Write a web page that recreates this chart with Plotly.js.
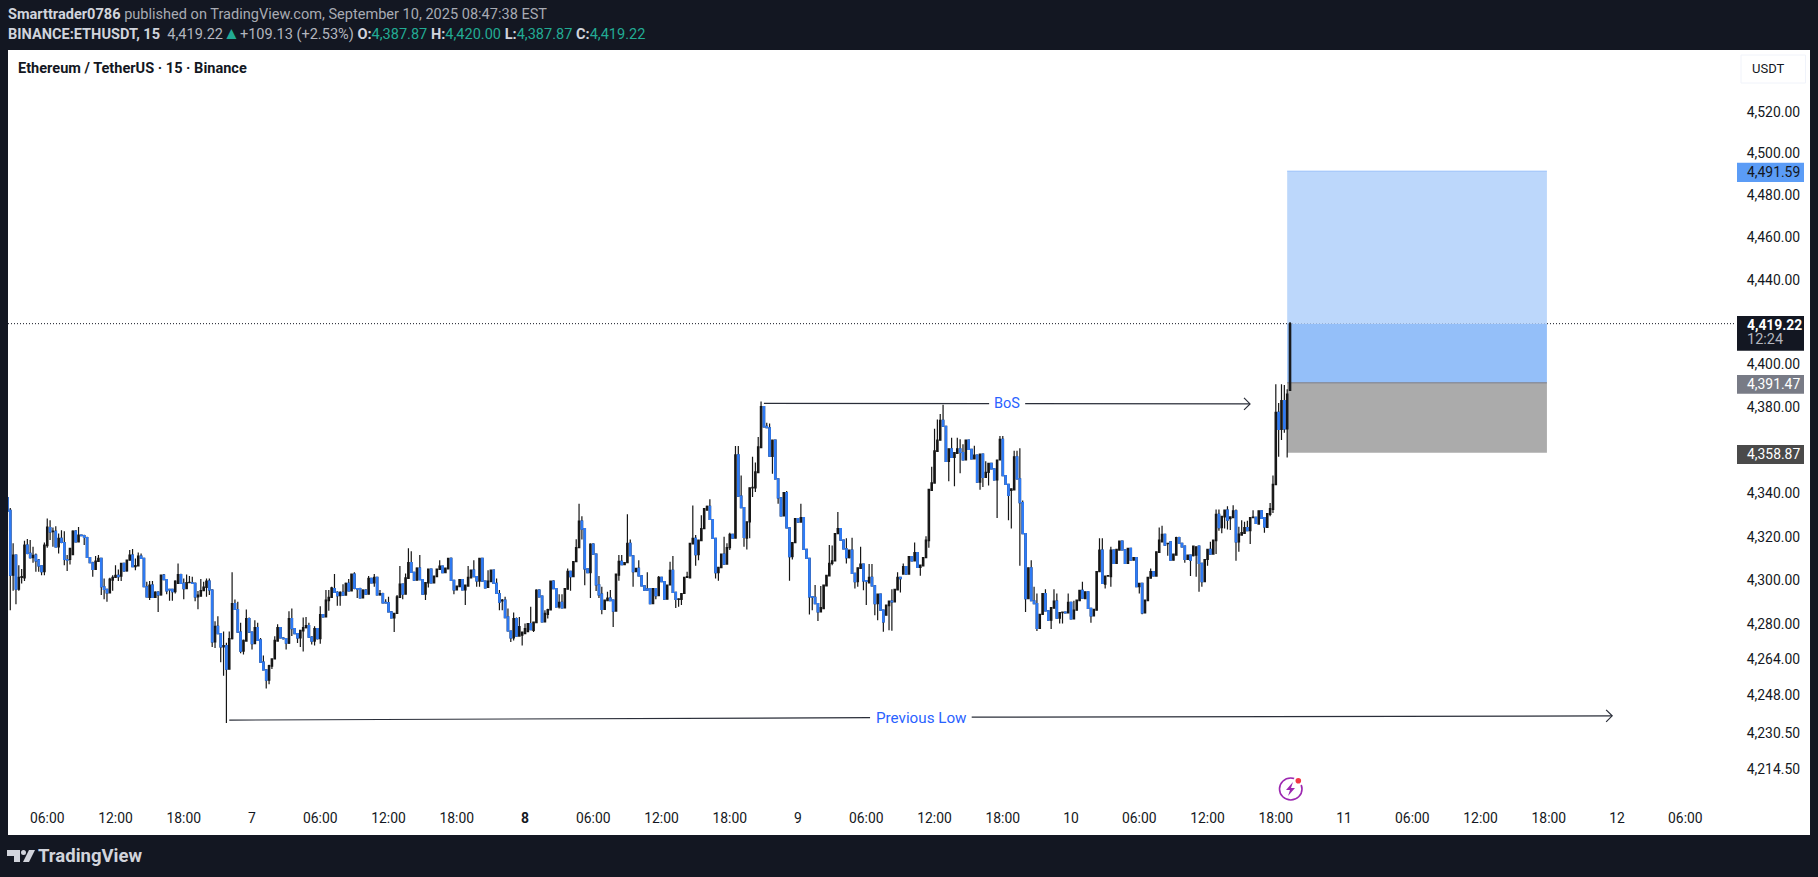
<!DOCTYPE html>
<html><head><meta charset="utf-8">
<script src="https://cdn.plot.ly/plotly-3.0.1.min.js"></script>
<style>html,body{margin:0;padding:0;background:#131722;overflow:hidden}#chart{width:1818px;height:877px}</style>
</head><body><div id="chart"></div>
<script>
const firstCandle = Date.UTC(2025,8,6,2,30);
const opens = [
4338.1,4332.2,4302.4,4311.6,4296,4301.4,4301.2,4316.2,4312.4,4310.4,
4311.6,4309.3,4306.7,4304,4315.9,4324.3,4322.4,4322.5,4315.4,4319.3,
4317.4,4309.6,4309.6,4311.8,4322.6,4317.7,4320.8,4320.6,4319.7,4310.5,
4308.1,4305,4308.7,4310.1,4297.1,4295.9,4294.3,4300.1,4301.4,4302.3,
4302,4307.8,4304.4,4309.3,4311.6,4306.3,4306.7,4311.2,4310.1,4297.1,
4292.2,4297.8,4292.2,4294.6,4293.4,4302.4,4300.4,4295.9,4295.9,4294.8,
4298.6,4302.7,4298.6,4296.2,4299,4298.9,4298.6,4292.5,4292.8,4295.3,
4296.8,4299.7,4295.6,4271.9,4279,4275.7,4269.6,4270.3,4259.5,4273.4,
4289.4,4286.7,4276.4,4267.7,4272.3,4282.6,4276.4,4271.1,4278.4,4272.9,
4262.7,4259.2,4254.6,4260.9,4264.2,4272.3,4278.4,4273.7,4273.4,4271.4,
4282.6,4278,4275.7,4273.7,4276.9,4278.4,4279.3,4274.1,4272.3,4278,
4273.4,4284.4,4283.3,4290.7,4292.2,4296.3,4294.5,4293,4294.5,4293.3,
4298.6,4295.2,4302.9,4296.3,4296.3,4292,4295.6,4293.7,4301,4298.9,
4301.4,4293.4,4294,4290,4289.9,4285.6,4282.9,4284.9,4292.2,4298.3,
4293.7,4300.9,4308.2,4303.7,4300.1,4305.6,4300.4,4293.7,4298.9,4305.2,
4298.9,4301.7,4305,4306.6,4303.5,4305.3,4310.1,4300,4295.6,4297.1,
4300.4,4295.6,4297.4,4301.2,4304.7,4301.7,4299.7,4310.1,4299.7,4296.8,
4299.4,4304.7,4298.6,4294,4290.6,4291,4283.3,4276.9,4273.7,4282.6,
4274.6,4275,4275.7,4276.6,4280.3,4277.2,4280.7,4295.6,4292.8,4281,
4284.5,4286.5,4299.7,4296.3,4287.9,4290,4287.4,4296,4304.1,4301.7,
4308.6,4315,4327.2,4323.8,4305.3,4303.5,4316.7,4312.1,4298,4293.7,
4286.8,4290.7,4291.9,4291,4286,4302.4,4308.7,4307.2,4308.1,4317,
4311.3,4304,4305.5,4302.1,4297.5,4296.1,4296.3,4289.4,4296.3,4293,
4301.4,4299.4,4291.4,4297.9,4304.6,4294.5,4291.3,4291.3,4294,4301.4,
4301.2,4316.7,4319.3,4311.8,4318.2,4323.8,4332.3,4334.1,4328,4319.3,
4303.5,4305.8,4312.1,4307.5,4315,4321.2,4319.4,4357.9,4338.8,4333.5,
4319.4,4326.9,4342.6,4342.6,4349.7,4361.3,4380.4,4371.2,4370.5,4357.2,
4364.7,4346.8,4338,4329.7,4340.4,4324.1,4310.9,4317.3,4328.4,4326.8,
4328.9,4314.2,4310.1,4292.6,4292.2,4289.4,4285.6,4287.1,4297.5,4302.1,
4307.8,4309,4321.5,4323.8,4318.5,4314.5,4310.4,4313.9,4303.2,4299.4,
4305.5,4307.5,4299.9,4298.9,4301.4,4297.5,4289.4,4293.7,4286.4,4284.1,
4288.4,4290.5,4290.2,4295.6,4301.4,4302.9,4306.3,4302.9,4310.9,4308.9,
4312.8,4306,4306.7,4310.4,4318.2,4341.4,4344.8,4359.5,4364.7,4374,
4371.2,4354.9,4360.7,4356.7,4358.6,4360.7,4359,4355.6,4364.7,4360.4,
4356,4357.8,4345.3,4358.2,4347.5,4349.8,4354,4351.4,4346.3,4355.5,
4365.1,4348.3,4344.2,4341.4,4341.7,4357,4346.8,4335.8,4321.5,4291.6,
4305.8,4290.7,4289.4,4278.1,4284.5,4294,4286.1,4281.8,4287.3,4290.5,
4282.7,4285.3,4285.5,4285.2,4290,4282.4,4286.4,4290.7,4295.5,4291.7,
4294.8,4287.2,4283.8,4286.4,4304,4313.9,4298.3,4302,4301.7,4313.9,
4307.8,4313.9,4318,4314,4307.8,4314.7,4309.3,4310.5,4297.1,4298.6,
4285.2,4290.7,4301,4304,4302,4312.8,4317.7,4321.2,4316.9,4317.7,
4309.3,4311.6,4319.7,4317,4315.7,4309.6,4311.6,4311.3,4311.6,4315.7,
4307.8,4299.4,4309.6,4314.2,4312.1,4318.2,4330.4,4324.2,4329.2,4332.3,
4328.4,4328.9,4332,4317.7,4320.8,4321.6,4324.3,4322.8,4328.9,4329,
4325.9,4332,4328.9,4324.3,4330.4,4332.7,4344.1,4377.7,4369.7,4383.2,
4370,4387.87];
const highs = [
4338.5,4333.3,4317,4311.8,4307,4305.2,4318.2,4319,4318.5,4315.4,
4312.4,4309.8,4306.9,4317.4,4328.4,4327.7,4324.3,4324.9,4321.5,4323,
4322.6,4311.6,4314.7,4323,4323,4324.5,4321,4321,4320,4310.6,
4308.5,4311.2,4311.6,4310.3,4300.9,4296,4301.2,4302.4,4307,4305,
4308,4308,4309.5,4313.9,4314.4,4310.1,4312.8,4312.4,4310.3,4299.4,
4299.7,4299.7,4295,4295,4302.6,4302.9,4300.6,4296,4296,4300.1,
4307.8,4303,4300.9,4302.7,4302,4301.7,4299,4295.1,4300.6,4299.4,
4300.9,4300.9,4296,4281.3,4283.6,4276,4276.7,4271.5,4276.7,4303.7,
4291.3,4290.2,4280.6,4273,4286.7,4283,4276.7,4281.8,4280.6,4273.7,
4265.7,4259.5,4261.5,4264.5,4274.5,4280,4278.7,4274,4273.7,4285.9,
4287.1,4278.3,4276,4277.5,4283,4283.3,4280.7,4274.5,4279,4278.3,
4288.2,4284.6,4295.6,4295.6,4297.1,4302.9,4295,4295,4298.3,4299,
4300.6,4303,4303.7,4296.5,4296.6,4296,4296,4302,4301.2,4302.9,
4301.6,4295.6,4294.3,4291.4,4292.5,4286,4285.2,4293.3,4306.6,4298.6,
4303.2,4314.7,4313.4,4304,4306,4311.6,4300.7,4299.3,4305.4,4305.4,
4302.2,4305.5,4309.3,4306.8,4305.8,4310.3,4310.5,4300.3,4297.6,4300.6,
4300.6,4298,4306.6,4305,4309.3,4302,4310.3,4310.3,4300,4304.7,
4305,4305,4300.9,4295.6,4291.5,4292.5,4287.1,4277.1,4285.3,4283,
4283.3,4276.7,4280.3,4280.5,4287.9,4281.2,4295.9,4296,4293,4286.4,
4287,4300,4300.1,4296.5,4293.7,4293.7,4296.5,4305.5,4304.3,4308.8,
4318.9,4335.3,4329.5,4324,4305.5,4317,4317,4312.3,4302,4297.1,
4291.2,4294.8,4295.6,4291.2,4303.1,4311.6,4311.6,4308.4,4330.4,4318.8,
4311.5,4305.7,4309.3,4302.3,4297.7,4303.7,4296.5,4296.5,4296.5,4302,
4301.6,4299.6,4298.1,4308.6,4311.2,4294.7,4291.8,4294.2,4301.6,4304,
4317.2,4334.5,4320.8,4318.7,4330,4333.2,4334.5,4337.3,4328.2,4319.5,
4306.2,4312.3,4320,4317,4321.9,4321.4,4362,4362,4348.3,4333.7,
4327.1,4342.8,4357,4354.3,4366.2,4382.7,4380.6,4372.8,4372.5,4364.9,
4364.9,4347,4338.2,4340.6,4341.1,4324.3,4317.6,4328.6,4328.6,4335.3,
4329.1,4314.4,4310.3,4292.8,4297.9,4289.6,4297.4,4298.1,4302.5,4316.2,
4316,4321.7,4331.5,4324,4318.7,4319.3,4314.1,4319.6,4303.4,4306,
4315.4,4307.7,4300.1,4307.5,4307.5,4297.7,4293.9,4293.9,4286.6,4288.9,
4290.7,4296,4296.1,4303.7,4301.6,4307.8,4306.5,4311.1,4311.1,4317.4,
4313,4307.2,4310.7,4320.3,4342.1,4352.4,4370,4374.3,4376.9,4381.2,
4371.4,4360.9,4365.9,4359.2,4365.9,4365.1,4362.8,4364.9,4364.9,4360.6,
4362.1,4358,4358.4,4358.4,4354.9,4354.2,4354.2,4351.6,4355.7,4366.7,
4366.7,4348.5,4344.4,4342.4,4359.8,4359.8,4361,4336.8,4321.7,4306,
4309.3,4297.1,4294,4284.7,4294.2,4296,4286.3,4287.8,4296,4294,
4285.5,4285.7,4285.7,4294,4290.2,4290.7,4291.2,4295.7,4299.4,4295,
4295,4287.4,4287,4304.2,4319.3,4319.3,4302.2,4302.4,4315.4,4314.1,
4314.4,4318.2,4318.2,4314.2,4314.9,4315,4310.7,4310.7,4298.8,4298.8,
4291.2,4301.6,4305.5,4304.2,4313.3,4324.3,4325.1,4321.4,4317.2,4317.9,
4312.3,4320,4320,4317.2,4315.9,4311.8,4311.8,4316,4315.6,4316,
4308,4309.8,4314.4,4317.7,4318.7,4332.6,4332.6,4329.7,4332.5,4334.1,
4329.4,4334.6,4332.6,4324.6,4327.7,4326.9,4327.4,4329.1,4332.3,4329.2,
4332.2,4332.2,4329.1,4331,4335.6,4348.3,4390.8,4382,4390.8,4390.4,
4388.4,4420];
const lows = [
4322.6,4286.4,4295.3,4289.1,4295.3,4298.6,4299.7,4312,4310,4308.1,
4304,4304,4302.4,4302.4,4315,4318.5,4315.4,4315.4,4312.4,4317,
4307,4304.3,4307.3,4311.8,4317.5,4317.5,4320.3,4316.2,4310.3,4308,
4301.7,4305,4308.5,4293.3,4291.4,4290.2,4294,4295.3,4301.2,4299.7,
4299.7,4304,4304,4309,4306,4304.7,4306.5,4310,4297,4292.3,
4291,4292,4292,4285.6,4293,4300.2,4293.7,4290.7,4290.7,4294,
4298.6,4298.4,4291.4,4296,4298.8,4298.4,4290.5,4286.8,4292.6,4295,
4292.5,4293.3,4269.6,4269.1,4275.5,4262.7,4256.6,4235.2,4259.3,4273,
4286.5,4276.2,4266.8,4266.2,4272,4276,4268.5,4271,4272.3,4262.5,
4259,4250.8,4252.7,4259.6,4264,4272,4273.5,4273,4268.5,4271,
4274.6,4275.5,4271.4,4269.6,4267.6,4278,4274,4270.8,4270.3,4273,
4271.1,4283,4283,4286.1,4292,4294.3,4288.4,4288.4,4293,4293,
4295,4295,4296,4292,4291.8,4291.8,4293.5,4293.5,4298.7,4297.1,
4293.2,4293,4289.5,4289.5,4285.4,4282.7,4276.4,4284.7,4292,4291.4,
4293.5,4300.7,4303.5,4300,4300,4300.2,4293.5,4291,4296.8,4298.7,
4298.7,4301.5,4304.8,4303.3,4303.3,4305,4299.8,4293.7,4295.4,4297,
4295.4,4288.7,4297.2,4301,4301.5,4297.1,4297.1,4299.5,4296.4,4296.6,
4299.2,4298.4,4293.8,4286.4,4286.4,4282.8,4276.7,4271.9,4272.6,4274.4,
4274.4,4270.3,4275.5,4276.4,4277.3,4276.4,4280.5,4292.3,4280.8,4280.8,
4282.6,4286.3,4296,4287.7,4287.1,4287.2,4287.2,4295.8,4295.3,4301.5,
4308.4,4314.8,4318.8,4297.8,4303.3,4292,4312,4295.2,4292,4284.5,
4286.6,4290.5,4290.5,4278.7,4285.8,4299.8,4307,4307,4307.9,4311.1,
4297.1,4303.8,4301.9,4297.3,4295.3,4295.3,4289.2,4289.2,4291.4,4292.8,
4299.2,4291.2,4291.2,4297.7,4294.3,4287.4,4287.9,4288.7,4293.8,4301.2,
4301,4316.5,4306.7,4309.3,4318,4323.6,4332.1,4327.8,4319.1,4300.9,
4299.8,4305.6,4307.3,4307.3,4313.9,4319.2,4319.2,4338.6,4333.3,4315.4,
4314.2,4319.3,4338.4,4340.7,4349.5,4361,4370.7,4370.3,4357.1,4349.1,
4346.6,4335.3,4329.5,4329.5,4323.9,4299.8,4309.6,4317.1,4326.6,4326.6,
4314,4309.9,4284.4,4286.4,4289.2,4281.5,4285.4,4286.9,4297.3,4301.9,
4307,4308.8,4321.3,4318.3,4314.3,4307.8,4310,4303,4296.3,4297.1,
4305.3,4295.5,4288.7,4298.7,4297.3,4284.1,4281.8,4286.2,4276.5,4284,
4277.2,4277,4290,4295.4,4294.5,4302.7,4302.7,4302.7,4308.7,4308.7,
4305.8,4302.1,4306.5,4310.2,4315,4341.2,4344.6,4359.3,4364.5,4371,
4354.7,4345.7,4356.5,4343.3,4358.4,4349.4,4355.4,4355.4,4360.2,4355.8,
4355.8,4345.1,4341.7,4343,4347.3,4343.7,4351.2,4346.1,4328.7,4355.3,
4348.1,4344,4327.7,4323.8,4341.5,4346.6,4306.7,4321.3,4285.6,4291.4,
4290.5,4289.2,4276.9,4278.4,4284.3,4285.9,4281.6,4277.8,4287.1,4282.5,
4280.3,4280.3,4285,4285,4282.2,4282.2,4286.2,4290.5,4291.7,4291.5,
4287,4280.7,4283.6,4286.2,4303.8,4298.4,4296.3,4301.8,4297.1,4307.6,
4307.6,4313.7,4313.8,4307.6,4307.6,4309.1,4309.1,4296.9,4294,4284.5,
4284.9,4290.5,4300.8,4302,4301.8,4313,4317.5,4316,4311.3,4309.1,
4309.1,4311.4,4316.8,4315.2,4308.1,4309.4,4302,4311,4301.7,4294.8,
4297.1,4299.2,4306.7,4311.9,4311.9,4312.1,4322.8,4321.6,4323.9,4323.4,
4323.1,4328.7,4309,4313.2,4320.6,4321.4,4322.6,4316.7,4328.7,4326,
4325.7,4328.3,4321.9,4324.1,4329.5,4331,4344,4357,4364.8,4368.2,
4356.7,4387.87];
const closes = [
4331.9,4302.4,4311.6,4296,4301.4,4301.8,4316.2,4312.4,4310.4,4311.5,
4309,4306.7,4304,4316.2,4324.5,4322.3,4322.7,4315.4,4319.3,4317.4,
4309.6,4309.3,4314.7,4322.6,4317.7,4320.8,4320.6,4319.7,4310.5,4308.1,
4305,4308.9,4310.1,4297.1,4295.9,4294.3,4300.6,4301.4,4302.3,4301.7,
4307.8,4304.4,4309.3,4311.6,4306.3,4306.8,4311.2,4310.1,4297.1,4292.5,
4297.8,4292.2,4294.6,4293.4,4302.4,4300.4,4295.2,4295.6,4294.8,4299.7,
4302.7,4298.6,4296.2,4299,4299.1,4298.6,4292.5,4293.3,4295.3,4296.9,
4299.7,4295.6,4271.9,4279,4275.7,4269.6,4270.3,4259.5,4273.4,4289.4,
4286.7,4276.4,4267.7,4272.6,4282.6,4276.4,4271.1,4278.4,4272.6,4262.7,
4259.2,4254.6,4261.2,4264.2,4272.6,4278.4,4273.7,4273.4,4271.4,4282.6,
4278,4275.7,4273.8,4277.2,4278.4,4279.3,4274.1,4272.3,4278,4273.4,
4284.4,4283.3,4291,4292.2,4296.6,4294.5,4293,4294.5,4293.3,4298.6,
4295.2,4302.9,4296.3,4296,4292,4295.6,4293.7,4301,4298.9,4301.4,
4293.4,4294,4289.7,4289.7,4285.6,4282.9,4284.9,4292.5,4298.3,4293.7,
4301.2,4308.2,4303.7,4300.1,4305.6,4300.4,4293.7,4299,4305.2,4298.9,
4302,4305.2,4306.6,4303.5,4305.6,4310.1,4300,4295.6,4297.4,4300.4,
4295.6,4297.8,4301.4,4304.7,4301.7,4299.8,4310.1,4299.7,4296.6,4299.7,
4304.7,4298.6,4294,4290,4291,4283,4276.9,4273.7,4282.6,4274.6,
4278.9,4276.4,4278,4280.3,4277.5,4281,4295.6,4292.5,4281,4284.9,
4286.7,4299.7,4296.2,4287.9,4290,4287.4,4296.3,4304.1,4301.7,4308.6,
4315.1,4327.2,4323.5,4305.3,4303.5,4316.7,4312.1,4298,4293.4,4286.8,
4291,4291.9,4290.7,4286,4302.9,4308.7,4307.2,4308.2,4317,4311.3,
4304,4305.5,4302.1,4297.5,4295.5,4295.5,4289.4,4296.3,4293,4301.4,
4299.4,4291.4,4297.9,4304.6,4294.5,4291.3,4291.6,4294,4301.4,4301.7,
4317,4319.3,4311.8,4318.5,4323.8,4333,4334.1,4328,4319.3,4303.5,
4306,4312.1,4307.5,4315.1,4321.2,4319.4,4357.9,4338.8,4333.5,4319.7,
4326.9,4342.6,4342.8,4350,4361.6,4380.4,4370.9,4370.5,4357.3,4364.7,
4346.8,4338,4329.7,4340.4,4324.1,4310.9,4317.4,4328.4,4326.8,4328.9,
4314.2,4310.1,4292.5,4292.3,4289.4,4285.6,4287.6,4297.9,4302.3,4307.8,
4309,4321.5,4323.8,4318.5,4314.5,4310.4,4313.9,4303.2,4299.4,4305.8,
4307.5,4299.8,4299.6,4301.4,4297.5,4289.4,4293.7,4286.4,4281,4288.7,
4290.5,4290.2,4295.9,4301.4,4300.8,4306.3,4302.9,4310.9,4308.9,4312.8,
4306,4307,4310.5,4318.5,4341.9,4344.9,4359.8,4364.7,4374,4371.2,
4354.9,4360.7,4356.7,4359,4360.7,4359,4355.6,4364.7,4360.4,4356,
4357.8,4345.3,4358.2,4347.5,4349.8,4354,4351.4,4346.3,4355.5,4365.1,
4348.3,4344.2,4339.1,4342.2,4357,4346.8,4335.8,4321.5,4291.6,4305.8,
4290.7,4289.4,4278.1,4284.5,4294,4286.1,4281.8,4287.6,4290.5,4282.7,
4285.3,4285.5,4285.1,4290,4282.4,4286.4,4291,4295.5,4291.9,4294.8,
4287.2,4283.8,4286.8,4304,4313.9,4298.6,4302,4302.2,4313.9,4307.8,
4314.2,4318,4314,4307.8,4314.7,4309.3,4310.5,4297.1,4298.6,4285.2,
4291,4301.4,4304,4302.1,4313.1,4318.5,4321.2,4316.2,4317,4309.3,
4312.1,4319.7,4317,4315.4,4309.6,4311.6,4309.3,4315.7,4315.4,4307.8,
4299.4,4309.6,4314.2,4312.1,4318.5,4330.4,4324.2,4329.5,4332.3,4327.7,
4329.2,4332,4317.7,4321.3,4321.9,4324.3,4322.8,4328.9,4329.1,4326.2,
4332,4328.5,4324.6,4330.7,4333,4344.2,4377.7,4369.7,4383.2,4370,
4386.2,4419.22];

const xTickTimes = ['2025-09-06 06:00','2025-09-06 12:00','2025-09-06 18:00','2025-09-07 00:00','2025-09-07 06:00','2025-09-07 12:00','2025-09-07 18:00','2025-09-08 00:00','2025-09-08 06:00','2025-09-08 12:00','2025-09-08 18:00','2025-09-09 00:00','2025-09-09 06:00','2025-09-09 12:00','2025-09-09 18:00','2025-09-10 00:00','2025-09-10 06:00','2025-09-10 12:00','2025-09-10 18:00','2025-09-11 00:00','2025-09-11 06:00','2025-09-11 12:00','2025-09-11 18:00','2025-09-12 00:00','2025-09-12 06:00'];
const xTickLabels = ['06:00','12:00','18:00','7','06:00','12:00','18:00','<b>8</b>','06:00','12:00','18:00','9','06:00','12:00','18:00','10','06:00','12:00','18:00','11','06:00','12:00','18:00','12','06:00'];
const yTickValues = [4214.5,4230.5,4248,4264,4280,4300,4320,4340,4380,4400,4440,4460,4480,4500,4520];
const yTickLabels = ['4,214.50','4,230.50','4,248.00','4,264.00','4,280.00','4,300.00','4,320.00','4,340.00','4,380.00','4,400.00','4,440.00','4,460.00','4,480.00','4,500.00','4,520.00'];
const bosTimes = ['2025-09-08 21:00','2025-09-09 16:48',null,'2025-09-09 19:58','2025-09-10 15:44'];
const bosPrices = [4381.9,4381.7,null,4381.7,4381.6];
const lowTimes = ['2025-09-06 22:00','2025-09-09 06:20',null,'2025-09-09 15:16','2025-09-11 23:34'];
const lowPrices = [4236.5,4237.6,null,4237.8,4238.4];
const targetPrice = 4491.59, entryPrice = 4391.47, stopPrice = 4358.87, lastPrice = 4419.22;
const positionStart = '2025-09-10 19:00', positionEnd = '2025-09-11 17:50';

const UP='#161616', DOWN='#2f7bf5', BG='#131722', TXT='#131722';
const times = opens.map((_,i)=>new Date(firstCandle+i*900000).toISOString().slice(0,16).replace('T',' '));
const downIdx = opens.map((o,i)=>closes[i]<o?i:-1).filter(i=>i>=0);
const px = x=>(x-8)/1727, py = y=>(808-y)/758;
const poly = pts=>'M'+pts.map(p=>px(p[0])+','+py(p[1])).join('L')+'Z';
const rect = (x0,y0,x1,y1,c,lc,extra)=>Object.assign({type:'rect',xref:'paper',yref:'paper',x0:px(x0),x1:px(x1),y0:py(y0),y1:py(y1),fillcolor:c,line:{width:lc?1:0,color:lc||c},layer:'above'},extra||{});
const FONT='Roboto, Arial, sans-serif';
const lab=(x,y,text,size,color,extra)=>Object.assign({xref:'paper',yref:'paper',x:px(x),y:py(y),text,showarrow:false,xanchor:'left',yanchor:'middle',align:'left',font:{family:FONT,size,color},borderpad:0},extra||{});
const G='#22ab94';

const traces=[
 {type:'candlestick',x:times,open:opens,high:highs,low:lows,close:closes,hoverinfo:'skip',whiskerwidth:0,
  increasing:{line:{color:UP,width:1.2},fillcolor:UP},decreasing:{line:{color:UP,width:1.2},fillcolor:DOWN}},
 {type:'candlestick',x:downIdx.map(i=>times[i]),open:downIdx.map(i=>opens[i]),high:downIdx.map(i=>opens[i]),low:downIdx.map(i=>closes[i]),close:downIdx.map(i=>closes[i]),hoverinfo:'skip',whiskerwidth:0,
  increasing:{line:{color:DOWN,width:1.2},fillcolor:DOWN},decreasing:{line:{color:DOWN,width:1.2},fillcolor:DOWN}},
 {type:'scatter',mode:'lines',x:bosTimes,y:bosPrices,line:{color:'#2a2e39',width:1.2},hoverinfo:'skip',connectgaps:false},
 {type:'scatter',mode:'lines',x:lowTimes,y:lowPrices,line:{color:'#2a2e39',width:1.2},hoverinfo:'skip',connectgaps:false}
];
const chevron=(t,p)=>({type:'path',xref:'x',yref:'y',xsizemode:'pixel',ysizemode:'pixel',xanchor:t,yanchor:p,path:'M-6,-6L0,0L-6,6',line:{color:'#2a2e39',width:1.2},layer:'above'});
const shapes=[
 {type:'rect',xref:'paper',yref:'paper',x0:0,x1:px(1810),y0:py(835),y1:py(50),fillcolor:'#ffffff',line:{width:0},layer:'below'},
 {type:'rect',xref:'x',yref:'y',x0:positionStart,x1:positionEnd,y0:lastPrice,y1:targetPrice,fillcolor:'#bcd7fb',line:{width:0},layer:'below'},
 {type:'line',xref:'x',yref:'y',x0:positionStart,x1:positionEnd,y0:targetPrice,y1:targetPrice,line:{color:'#97c0fa',width:1},layer:'below'},
 {type:'rect',xref:'x',yref:'y',x0:positionStart,x1:positionEnd,y0:entryPrice,y1:lastPrice,fillcolor:'#94bff9',line:{width:0},layer:'below'},
 {type:'rect',xref:'x',yref:'y',x0:positionStart,x1:positionEnd,y0:stopPrice,y1:entryPrice,fillcolor:'#ababab',line:{width:0},layer:'below'},
 {type:'line',xref:'x',yref:'y',x0:positionStart,x1:positionEnd,y0:entryPrice,y1:entryPrice,line:{color:'#787b86',width:1},layer:'below'},
 {type:'line',xref:'paper',yref:'y',x0:0,x1:1,y0:lastPrice,y1:lastPrice,line:{color:'#131722',width:1,dash:'1px,2px'},layer:'below'},
 chevron(bosTimes[4],bosPrices[4]),
 chevron(lowTimes[4],lowPrices[4]),
 rect(1741,55,1805.5,83,'rgba(255,255,255,0)','#f0f3fa'),
 rect(1737,162.7,1804,182,'#5b9cf6'),
 rect(1737,316,1804,350.7,'#131722'),
 rect(1737,375,1804,393.7,'#787b86'),
 rect(1737,445,1804,464,'#4a4a4a'),
 {type:'circle',xref:'paper',yref:'paper',x0:px(1279.5),x1:px(1302),y0:py(800),y1:py(778),line:{color:'#9c27b0',width:1.6},fillcolor:'rgba(0,0,0,0)',layer:'above'},
 {type:'circle',xref:'paper',yref:'paper',x0:px(1293.5),x1:px(1303.5),y0:py(785.7),y1:py(775.7),line:{width:0},fillcolor:'#ffffff',layer:'above'},
 {type:'circle',xref:'paper',yref:'paper',x0:px(1295.5),x1:px(1301.1),y0:py(783.5),y1:py(777.9),line:{width:0},fillcolor:'#f23645',layer:'above'},
 {type:'path',xref:'paper',yref:'paper',path:poly([[1293,782],[1286,790],[1290,790],[1288,796],[1295,788],[1291,788]]),fillcolor:'#9c27b0',line:{width:0},layer:'above'},
 {type:'path',xref:'paper',yref:'paper',path:poly([[7,850],[20,850],[20,862],[14,862],[14,856],[7,856]]),fillcolor:'#d1d4dc',line:{width:0},layer:'above'},
 {type:'circle',xref:'paper',yref:'paper',x0:px(21),x1:px(26),y0:py(855),y1:py(850),fillcolor:'#d1d4dc',line:{width:0},layer:'above'},
 {type:'path',xref:'paper',yref:'paper',path:poly([[29,850],[35,850],[29,862],[23,862]]),fillcolor:'#d1d4dc',line:{width:0},layer:'above'}
];
const annotations=[
 lab(7,14,'<b>Smarttrader0786</b> <span style="color:#a8abb3">published on TradingView.com, September 10, 2025 08:47:38 EST</span>',14.55,'#d1d4dc'),
 lab(7,33,'<b>BINANCE:ETHUSDT, 15</b>  <span style="color:#b2b5be">4,419.22</span><span style="color:'+G+';font-size:17px">▲</span><span style="color:#b2b5be">+109.13 (+2.53%)</span> <b>O:</b><span style="color:'+G+'">4,387.87</span> <b>H:</b><span style="color:'+G+'">4,420.00</span> <b>L:</b><span style="color:'+G+'">4,387.87</span> <b>C:</b><span style="color:'+G+'">4,419.22</span>',14.55,'#d1d4dc'),
 lab(17,68,'<b>Ethereum / TetherUS · 15 · Binance</b>',14.55,'#131722'),
 lab(1751,69,'USDT',13,'#131722'),
 lab(1746,172,'4,491.59',13.9,'#131722'),
 lab(1746,324.5,'<b>4,419.22</b>',13.9,'#ffffff'),
 lab(1746,340,'12:24',14.5,'#b2b5be'),
 lab(1746,384,'4,391.47',13.9,'#ffffff'),
 lab(1746,453.5,'4,358.87',13.9,'#ffffff'),
 lab(1006.7,403.5,'BoS',14.5,'#2962ff',{xanchor:'center'}),
 lab(921,717.5,'Previous Low',15.2,'#2962ff',{xanchor:'center'}),
 lab(37,856,'<b>TradingView</b>',18.5,'#d1d4dc')
];
const layout={
 width:1818,height:877,autosize:false,margin:{l:8,r:83,t:50,b:69,pad:0},
 paper_bgcolor:BG,plot_bgcolor:'rgba(0,0,0,0)',showlegend:false,dragmode:false,
 font:{family:FONT,size:13.9,color:TXT},hovermode:false,
 boxgap:0.3,
 xaxis:{type:'date',range:['2025-09-06 02:33','2025-09-12 10:22'],rangeslider:{visible:false},tickmode:'array',tickvals:xTickTimes,ticktext:xTickLabels,showgrid:false,zeroline:false,showline:false,ticks:'',tickangle:0,tickfont:{family:FONT,size:13.9,color:TXT}},
 yaxis:{type:'log',range:[3.62294,3.658006],side:'right',tickmode:'array',tickvals:yTickValues,ticktext:yTickLabels,showgrid:false,zeroline:false,showline:false,ticks:'outside',ticklen:8,tickcolor:'rgba(0,0,0,0)',tickfont:{family:FONT,size:13.9,color:TXT}},
 shapes,annotations
};
Plotly.newPlot('chart',traces,layout,{displayModeBar:false,staticPlot:true});
</script></body></html>
